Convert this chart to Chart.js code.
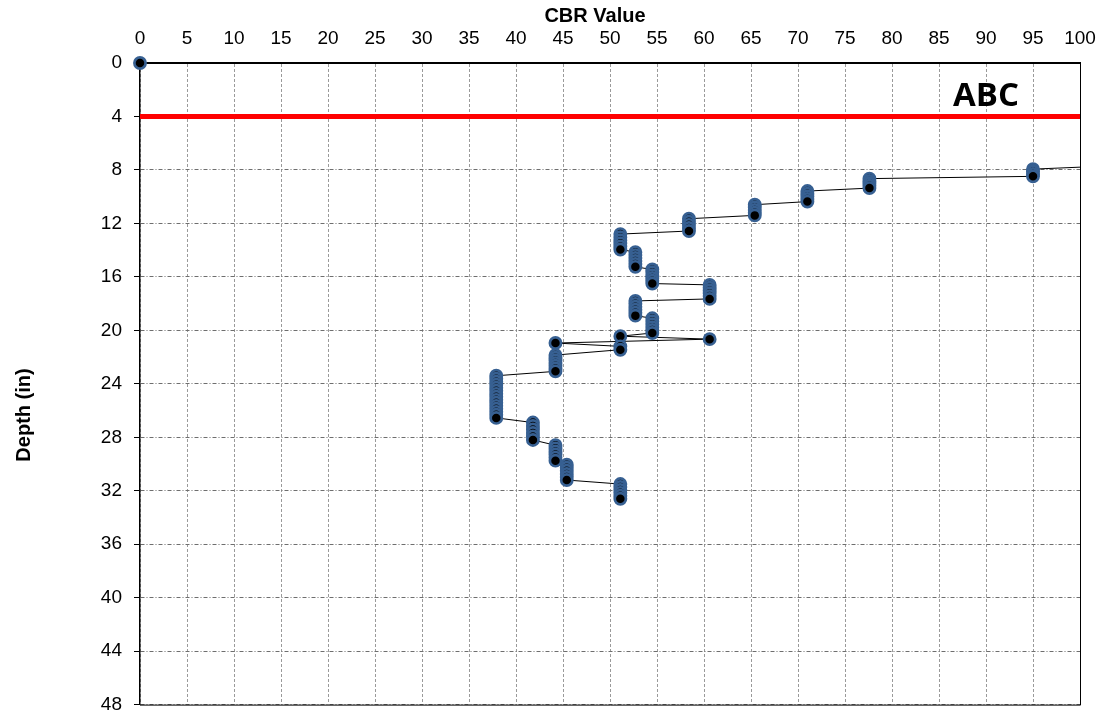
<!DOCTYPE html>
<html>
<head>
<meta charset="utf-8">
<title>DCP CBR Profile</title>
<script src="https://cdn.jsdelivr.net/npm/chart.js@4.4.1/dist/chart.umd.min.js"></script>
<style>
  html, body { margin: 0; padding: 0; background: #ffffff; }
  #wrap { width: 1109px; height: 728px; }
</style>
</head>
<body>
<div id="wrap"><canvas id="cbrChart" width="1109" height="728"></canvas></div>
<script>
// CBR (%) of each DCP reading, in test order
const cbr = [
  120,
  95, 95, 95, 95,
  77.6, 77.6, 77.6, 77.6, 77.6,
  71.0, 71.0, 71.0, 71.0, 71.0,
  65.4, 65.4, 65.4, 65.4, 65.4,
  58.4, 58.4, 58.4, 58.4, 58.4,
  51.1, 51.1, 51.1, 51.1, 51.1, 51.1,
  52.7, 52.7, 52.7, 52.7, 52.7, 52.7,
  54.5, 54.5, 54.5, 54.5, 54.5, 54.5,
  60.6, 60.6, 60.6, 60.6, 60.6, 60.6,
  52.7, 52.7, 52.7, 52.7, 52.7, 52.7,
  54.5, 54.5, 54.5, 54.5, 54.5, 54.5,
  51.1,
  60.6,
  44.2,
  51.1, 51.1,
  44.2, 44.2, 44.2, 44.2, 44.2, 44.2, 44.2,
  37.9, 37.9, 37.9, 37.9, 37.9, 37.9, 37.9, 37.9, 37.9, 37.9, 37.9, 37.9, 37.9, 37.9, 37.9,
  41.8, 41.8, 41.8, 41.8, 41.8, 41.8,
  44.2, 44.2, 44.2, 44.2, 44.2, 44.2,
  45.4, 45.4, 45.4, 45.4, 45.4, 45.4,
  51.1, 51.1, 51.1, 51.1, 51.1, 51.1
];

// Depth (in) of each DCP reading
const depthIn = [
  7.20,
  7.94, 8.12, 8.30, 8.48,
  8.65, 8.83, 9.00, 9.18, 9.36,
  9.58, 9.78, 9.98, 10.17, 10.37,
  10.60, 10.80, 11.00, 11.20, 11.40,
  11.65, 11.88, 12.11, 12.34, 12.57,
  12.80, 13.03, 13.26, 13.49, 13.72, 13.95,
  14.15, 14.37, 14.59, 14.81, 15.03, 15.25,
  15.45, 15.66, 15.87, 16.08, 16.29, 16.50,
  16.60, 16.81, 17.02, 17.23, 17.44, 17.65,
  17.80, 18.02, 18.24, 18.46, 18.68, 18.90,
  19.10, 19.32, 19.54, 19.76, 19.98, 20.20,
  20.44,
  20.66,
  20.95,
  21.20, 21.45,
  21.85, 22.05, 22.25, 22.45, 22.65, 22.86, 23.07,
  23.40, 23.62, 23.85, 24.07, 24.30, 24.52, 24.75, 24.97, 25.20, 25.42, 25.65, 25.87, 26.10, 26.32, 26.55,
  26.90, 27.16, 27.42, 27.68, 27.94, 28.20,
  28.60, 28.83, 29.06, 29.29, 29.52, 29.75,
  30.05, 30.28, 30.51, 30.74, 30.97, 31.20,
  31.50, 31.72, 31.94, 32.16, 32.38, 32.60
];

// Surface reading
const surfaceCbr = [0];
const surfaceDepth = [0];

// Layer boundary
const boundaryLabel = 'ABC';
const boundaryDepth = 4;
const boundaryCbr = [0, 100];

// Axis ranges, tick steps and titles
const cbrRange = [0, 100];
const cbrStep = 5;
const depthRange = [0, 48];
const depthStep = 4;
const xTitle = 'CBR Value';
const yTitle = 'Depth (in)';

const MARKER_BLUE = '#376092';
const FONT = '"Liberation Sans", Arial, sans-serif';

const profilePoints = cbr.map((v, i) => ({ x: v, y: depthIn[i] }));
const surfacePoints = surfaceCbr.map((v, i) => ({ x: v, y: surfaceDepth[i] }));
const boundaryPoints = boundaryCbr.map(v => ({ x: v, y: boundaryDepth }));

// Right/bottom frame of the plot, axis titles and the boundary caption
const framePlugin = {
  id: 'frame',
  afterDatasetsDraw(chart) {
    const { ctx, chartArea: a, scales } = chart;
    ctx.save();
    ctx.strokeStyle = '#000000';
    ctx.lineWidth = 1;
    ctx.beginPath();
    ctx.moveTo(a.right + 0.5, a.top);
    ctx.lineTo(a.right + 0.5, a.bottom + 0.5);
    ctx.lineTo(a.left, a.bottom + 0.5);
    ctx.stroke();

    ctx.fillStyle = '#000000';
    ctx.textAlign = 'center';
    ctx.textBaseline = 'middle';

    ctx.font = 'bold 33px "Open Sans", "Liberation Sans", sans-serif';
    ctx.fillText(boundaryLabel, scales.x.getPixelForValue(90), scales.y.getPixelForValue(boundaryDepth) - 20);
    ctx.restore();
  },
  afterDraw(chart) {
    const { ctx } = chart;
    ctx.save();
    ctx.fillStyle = '#000000';
    ctx.textAlign = 'center';
    ctx.textBaseline = 'middle';
    ctx.font = 'bold 20px ' + FONT;
    ctx.fillText(xTitle, 595, 16);
    ctx.translate(24, 415);
    ctx.rotate(-Math.PI / 2);
    ctx.fillText(yTitle, 0, 0);
    ctx.restore();
  }
};

new Chart(document.getElementById('cbrChart'), {
  type: 'scatter',
  data: {
    datasets: [
      {
        label: 'DCP profile',
        data: profilePoints,
        showLine: true,
        borderColor: '#000000',
        borderWidth: 1,
        pointRadius: 5.6,
        pointBorderWidth: 2.7,
        pointBackgroundColor: '#000000',
        pointBorderColor: MARKER_BLUE,
        order: 1
      },
      {
        label: 'Surface',
        data: surfacePoints,
        showLine: false,
        clip: false,
        pointRadius: 5.6,
        pointBorderWidth: 2.7,
        pointBackgroundColor: '#000000',
        pointBorderColor: MARKER_BLUE,
        order: 0
      },
      {
        label: boundaryLabel,
        data: boundaryPoints,
        showLine: true,
        borderColor: '#ff0000',
        borderWidth: 5,
        pointRadius: 0,
        order: 2
      }
    ]
  },
  options: {
    responsive: false,
    animation: false,
    devicePixelRatio: 1,
    layout: { padding: { top: 0, left: 0, right: 29, bottom: 12 } },
    plugins: {
      legend: { display: false },
      tooltip: { enabled: false }
    },
    scales: {
      x: {
        type: 'linear',
        position: 'top',
        min: cbrRange[0],
        max: cbrRange[1],
        afterFit(scale) { scale.height = 63; },
        ticks: {
          stepSize: cbrStep,
          color: '#000000',
          font: { family: FONT, size: 19 },
          padding: 13,
          maxRotation: 0
        },
        grid: {
          color: '#9a9a9a',
          lineWidth: 1,
          drawTicks: false
        },
        border: { display: true, color: '#000000', width: 2, dash: [3, 2] },
        title: { display: false, text: xTitle }
      },
      y: {
        type: 'linear',
        position: 'left',
        reverse: true,
        min: depthRange[0],
        max: depthRange[1],
        afterFit(scale) { scale.width = 140; },
        ticks: {
          stepSize: depthStep,
          color: '#000000',
          font: { family: FONT, size: 19 },
          padding: 12
        },
        grid: {
          color: '#6e6e6e',
          lineWidth: 1,
          drawTicks: true,
          tickLength: 6,
          tickColor: '#000000',
          tickBorderDash: [],
          tickWidth: 1
        },
        border: { display: true, color: '#000000', width: 1.5, dash: [4, 2, 1, 2] },
        title: { display: false, text: yTitle }
      }
    }
  },
  plugins: [framePlugin]
});
</script>
</body>
</html>
